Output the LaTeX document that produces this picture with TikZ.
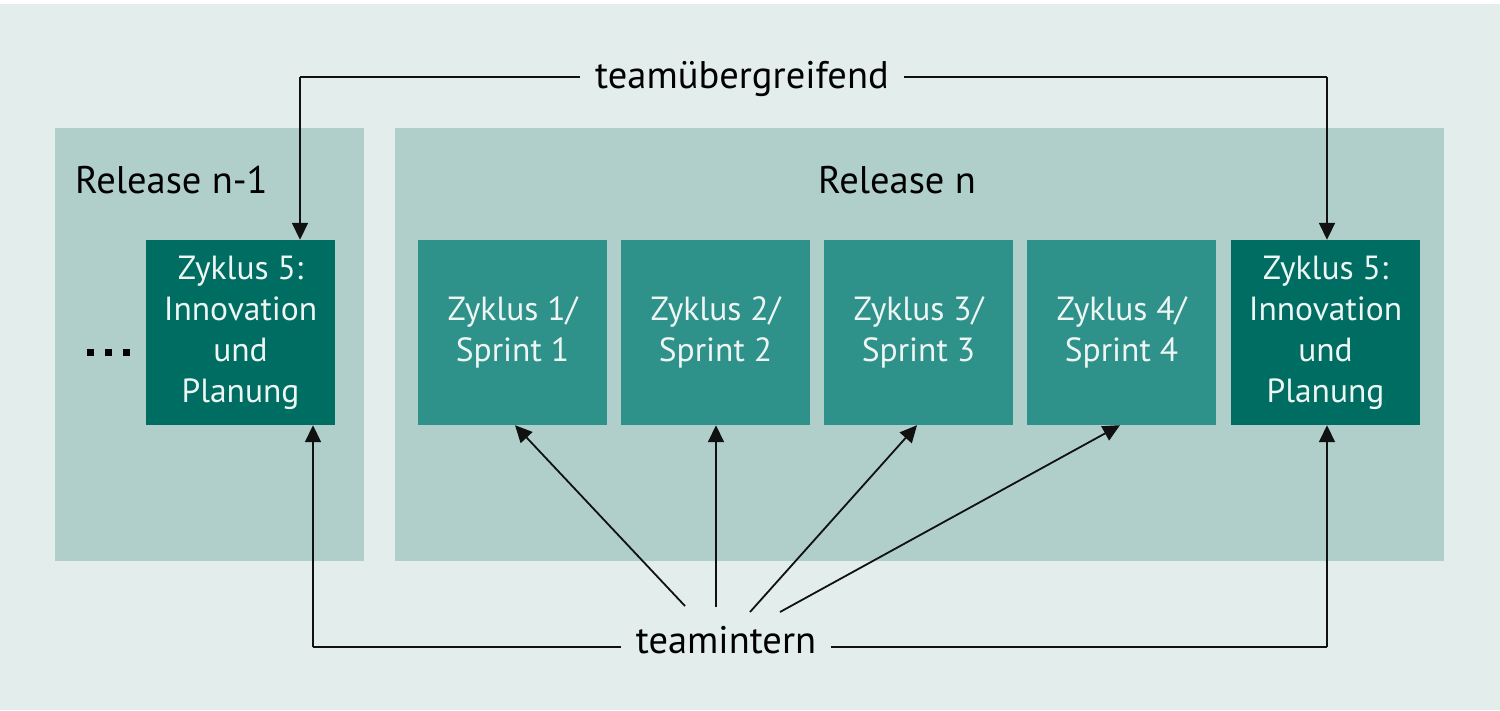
\documentclass[tikz,border=0pt]{standalone}
\usepackage{fontspec}
\setmainfont{PT Sans}
\usetikzlibrary{arrows.meta}
\definecolor{bgc}{HTML}{E3EDEC}
\definecolor{panelc}{HTML}{B0CFCB}
\definecolor{midc}{HTML}{2E918A}
\definecolor{darkc}{HTML}{006D62}
\definecolor{txtc}{HTML}{EEF6F4}
\definecolor{linec}{HTML}{111111}
\tikzset{
  panel/.style={fill=panelc, draw=none},
  cyc/.style={minimum width=189pt, minimum height=185pt, inner sep=0pt, align=center,
    text=txtc, font=\fontsize{33.5}{41}\selectfont},
  sprintbox/.style={cyc, fill=midc},
  planbox/.style={cyc, fill=darkc},
  head/.style={font=\fontsize{38.5}{45}\selectfont, text=black, inner sep=0pt},
  lbl/.style={font=\fontsize{38.5}{45}\selectfont, text=black, inner xsep=15pt, inner ysep=0pt},
  conn/.style={draw=linec, line width=1.8pt},
  arr/.style={conn, -{Triangle[length=17pt,width=16pt]}},
  dotsq/.style={fill=black, minimum size=7pt, inner sep=0pt}
}
\begin{document}
\begin{tikzpicture}[x=1pt,y=-1pt]
\useasboundingbox (0,0) rectangle (1500,710);
\fill[white] (0,0) rectangle (1500,710);
\fill[bgc] (0,4) rectangle (1500,710);
\path[panel] (55,128) rectangle (364,561);
\path[panel] (395,128) rectangle (1444,561);
\node[head, anchor=base west] (rl) at (75,193) {Release n-1};
\node[head, anchor=base] (rn) at (897,193) {Release n};
\node[planbox] (L5) at (240.5,332.5) {Zyklus 5:\\Innovation\\und\\Planung};
\node[sprintbox] (Z1) at (512.5,332.5) {Zyklus 1/\\Sprint 1};
\node[sprintbox] (Z2) at (715.5,332.5) {Zyklus 2/\\Sprint 2};
\node[sprintbox] (Z3) at (918.5,332.5) {Zyklus 3/\\Sprint 3};
\node[sprintbox] (Z4) at (1121.5,332.5) {Zyklus 4/\\Sprint 4};
\node[planbox] (Z5) at (1325.5,332.5) {Zyklus 5:\\Innovation\\und\\Planung};
\node[dotsq] (d1) at (90,352) {};
\node[dotsq] (d2) at (108,352) {};
\node[dotsq] (d3) at (126,352) {};
\node[lbl, anchor=base] (tu) at (742,88) {teamübergreifend};
\node[lbl, anchor=base] (ti) at (726,653) {teamintern};
\coordinate (tuL) at (300,77);
\coordinate (tuR) at (1327,77);
\coordinate (tiL) at (313,647);
\coordinate (tiR) at (1327,647);
\coordinate (s1) at (685,606);
\coordinate (s2) at (716,607);
\coordinate (s3) at (750,612);
\coordinate (s4) at (780,612);
\draw[conn] (tu.west |- tuL) -- (tuL);
\draw[arr] (tuL) -- (tuL |- L5.north);
\draw[conn] (tu.east |- tuR) -- (tuR);
\draw[arr] (tuR) -- (tuR |- Z5.north);
\draw[conn] (ti.west |- tiL) -- (tiL);
\draw[arr] (tiL) -- (tiL |- L5.south);
\draw[conn] (ti.east |- tiR) -- (tiR);
\draw[arr] (tiR) -- (tiR |- Z5.south);
\draw[arr] (s1) -- ([xshift=2.5pt]Z1.south);
\draw[arr] (s2) -- ([xshift=0.5pt]Z2.south);
\draw[arr] (s3) -- ([xshift=-1.5pt]Z3.south);
\draw[arr] (s4) -- ([xshift=-1.5pt]Z4.south);
\end{tikzpicture}
\end{document}
